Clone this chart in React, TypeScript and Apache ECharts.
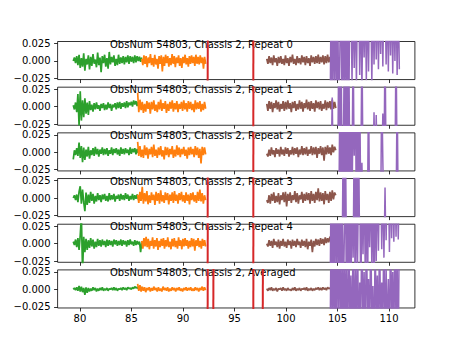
import React, { useEffect, useRef } from 'react';
import * as echarts from 'echarts';

// ---------- data (values in thousandths, i.e. 1 = 0.001) ----------
const TITLES = [
  'ObsNum 54803, Chassis 2, Repeat 0',
  'ObsNum 54803, Chassis 2, Repeat 1',
  'ObsNum 54803, Chassis 2, Repeat 2',
  'ObsNum 54803, Chassis 2, Repeat 3',
  'ObsNum 54803, Chassis 2, Repeat 4',
  'ObsNum 54803, Chassis 2, Averaged',
];
const X_TICKS = [80, 85, 90, 95, 100, 105, 110];
const Y_TICKS = [-0.025, 0, 0.025];

const GREEN_START = [79.35, 79.35, 79.35, 79.35, 79.35, 79.35];
const GREEN_END = [86.0, 86.0, 86.0, 86.0, 86.0, 86.0];
const ORANGE_START = [86.0, 85.6, 85.6, 85.6, 86.0, 85.6];
const ORANGE_END = [92.2, 92.2, 92.2, 92.2, 92.2, 92.2];
const BROWN_START = [98.13, 98.13, 98.13, 98.13, 98.13, 98.13];
const BROWN_END = [104.83, 104.83, 104.83, 104.83, 104.83, 104.83];
const PURPLE_START = [104.27, 104.27, 104.27, 104.27, 104.27, 104.27];
const PURPLE_END = [111.0, 111.0, 111.0, 111.0, 111.0, 111.0];

const GREEN = [
  [0,5,-3,7,-6,9,-10,4,-8,11,-14,3,-5,8,-12,6,-7,10,-4,2,-9,12,-6,5,-16,7,-3,9,-8,4,-11,13,-5,6,-2,8,-7,3,-6,9,-4,5,-3,7,-5,6,-2,8,-4,7,-1,6,-3,8,-2,7,0,6,-1,5],
  [2,-4,6,-8,18,-27,22,-20,9,-15,12,-10,6,-12,8,-5,3,-7,5,-4,6,-3,2,-6,4,-2,5,-5,3,-4,6,-2,4,-6,3,-1,5,-4,6,-2,7,-3,5,0,6,-2,8,-1,6,2,7,0,9,3,8,1,7,2,5,0],
  [-10,3,-4,6,-5,14,-8,9,-14,7,-11,4,-6,8,-9,3,-4,6,-5,8,-3,5,-6,4,-2,7,-4,5,-3,6,-5,3,-2,7,-4,5,-1,6,-3,4,-5,7,-2,5,-3,6,-1,4,-4,7,-2,5,0,6,-3,5,-1,4,-2,3],
  [0,4,-3,5,-6,9,17,-8,12,-6,-19,8,-10,5,-7,9,-4,6,-8,3,-5,7,-3,4,-6,5,-2,6,-4,3,-5,7,-3,4,-2,6,-5,3,-1,5,-4,6,-2,4,-3,7,-1,5,-4,3,-2,6,-3,4,-1,5,-2,3,-4,2],
  [3,-2,6,-5,8,-9,12,40,-40,10,-12,7,-9,5,-6,8,-4,6,-7,3,-5,7,-3,5,-4,6,-2,4,-5,6,-3,5,-2,4,-4,6,-1,5,-3,4,-2,6,-3,5,-1,4,-4,5,-2,6,-1,3,-3,5,-2,4,-1,3,-12,2],
  [0,2,-1,3,-2,5,-3,4,-4,2,-8,3,-5,2,-3,1,-2,3,-1,2,-3,1,-2,2,-1,3,-2,1,-1,2,-2,1,0,2,-1,3,-1,2,-2,1,0,2,-1,3,0,2,-1,3,1,2,0,3,1,4,2,3,1,4,2,3],
];

const ORANGE = [
  [3,-6,8,-4,7,-9,5,-3,10,-6,4,-8,9,-5,3,-11,7,-4,8,-15,6,-7,9,-3,7,-8,4,-6,10,-4,7,-9,5,-3,8,-7,4,-10,6,-3,9,-5,4,-8,7,-4,8,-3,6,-7,9,-4,6,-5,8,-3,5,-11,6,-4],
  [20,-8,10,-5,7,-9,4,-7,8,-3,6,-10,7,-4,9,-6,3,-8,7,-4,10,-6,5,-3,8,-9,4,-6,7,-3,9,-7,5,-4,8,-8,4,-3,7,-6,9,-4,5,-7,8,-3,7,-5,4,-8,9,-4,6,-3,8,-7,4,-5,7,-3],
  [15,-5,9,-7,4,-8,10,-4,7,-9,5,-3,8,-7,11,-5,4,-8,7,-4,9,-6,3,-10,8,-4,7,-7,5,-3,9,-8,4,-6,10,-4,7,-7,5,-3,8,-5,4,-9,7,-4,8,-3,5,-7,9,-4,7,-8,5,-16,8,-4,7,-3],
  [5,-7,9,-4,16,-8,7,-5,10,-9,4,-7,8,-3,5,-10,9,-4,7,-8,11,-5,4,-7,8,-3,7,-9,5,-4,8,-7,10,-4,5,-8,7,-3,9,-5,4,-7,8,-4,5,-9,7,-3,8,-5,4,-7,9,-4,12,-5,7,-8,4,-3],
  [4,-7,8,-4,10,-5,7,-8,4,-3,9,-7,5,-4,8,-9,4,-5,7,-3,8,-7,5,-4,9,-5,3,-8,7,-4,8,-5,4,-7,9,-3,5,-8,7,-4,8,-3,5,-7,4,-5,8,-4,7,-10,5,-3,8,-5,4,-7,7,-3,5,-4],
  [8,-2,6,-3,4,-2,3,-4,2,-1,3,-3,2,-2,4,-1,2,-3,3,-2,1,-3,4,-1,2,-2,3,-3,1,-2,3,-1,2,-3,2,-1,3,-2,1,-3,2,-1,3,-2,2,-1,3,-2,1,-2,3,-1,2,-3,2,-1,4,-2,3,-1],
];

// x positions where the red trace crosses the whole panel
const RED_CROSS = [
  [92.4, 96.83],
  [96.83],
  [96.83],
  [92.4, 96.83],
  [92.4, 96.83],
  [92.4, 92.95, 96.83, 97.75],
];

const BROWN = [
  [3,-4,7,-3,5,-6,8,-2,4,-7,6,-3,7,-4,3,-6,8,-3,4,-7,6,-2,9,-4,3,-6,7,-3,4,-5,8,-2,6,-6,7,-3,4,-7,8,-2,6,-4,7,-3,9,-4,6,-2,8,-5,7,-3,9,-2,6,-4,8,-1,7,-3],
  [4,-6,8,-3,7,-8,5,-2,9,-4,7,-7,4,-3,8,-6,7,-4,9,-3,5,-8,7,-2,8,-6,4,-4,9,-3,7,-7,5,-2,10,-4,7,-6,8,-3,5,-7,9,-2,7,-4,8,-6,4,-3,9,-5,7,-2,8,-4,10,-3,7,-2],
  [-2,-6,4,-5,7,-3,3,-7,6,-2,4,-6,8,-3,4,-5,7,-2,6,-6,3,-3,8,-4,6,-2,7,-7,4,-3,9,-4,6,-3,8,-5,4,-2,9,-4,7,-3,8,-8,6,-2,9,-4,7,-12,8,-3,10,-2,7,-4,11,0,8,3],
  [-3,-7,4,-8,6,-4,8,-7,3,-6,7,-9,4,-3,8,-6,9,-12,6,-4,8,-7,4,-3,10,-6,7,-8,4,-2,9,-7,6,-4,8,-3,7,-8,10,-4,6,-7,9,-3,14,-5,8,-4,7,-9,10,-3,6,-7,9,-4,11,-2,8,4],
  [0,-4,5,-3,4,-6,7,-2,3,-5,6,-7,4,-3,7,-4,3,-6,6,-2,4,-7,6,-3,4,-5,7,-2,3,-6,6,-3,4,-5,7,-8,3,-3,6,-12,4,-4,7,-2,6,-3,8,0,7,-2,9,1,8,2,10,3,9,4,11,6],
  [1,-2,2,-1,3,-2,1,-1,2,-3,1,0,2,-2,3,-1,1,-2,2,-1,0,-2,2,-1,3,-2,1,-1,2,-2,1,0,2,-1,3,-2,1,-1,2,-2,1,-1,2,0,3,-1,2,-1,3,0,2,-1,3,1,2,0,3,1,2,1],
];

// 99 / -99 = far off the panel (clipped at the frame)
const PURPLE = [
  [-99,99,-99,99,-40,99,-99,99,-99,20,99,-99,99,-60,99,-99,99,-99,99,
   99,-30,99,-10,99,-35,99,99,-20,99,-40,99,5,99,-28,99,-15,99,99,-32,99,-5,
   99,2,99,-12,99,10,99,-8,99,99,-5,99,-15,99,8,99,-18,99,0,99,-20,99,-12],
  [-99,-99,13,-99,-99,-99,-99,-99,99,-99,99,-99,-99,99,-99,99,-99,99,-99,-99,-99,99,-99,-99,-99,-99,-99,-99,-99,99,
   -99,-99,-99,-99,-99,-99,-99,-99,-99,-99,-8,-99,-12,-99,-99,-99,-99,-99,-10,-99,99,-99,-99,-99,-99,-99,-99,-99,-99,-99,99,-99,-99,-99],
  [-99,-99,-99,-99,-99,-99,-99,-99,-99,99,-99,99,-99,99,-99,99,-99,99,-99,99,-99,99,-5,99,-99,99,-99,99,-99,-15,
   -99,-99,-99,-99,-99,99,-99,-99,-99,-99,-99,-99,-99,-99,-99,-99,-99,99,-12,-99,-99,-99,-99,-99,-99,-99,-99,-99,-99,-99,-99,99,-99,-99],
  [-99,-99,-99,-99,-99,-99,-99,-99,-99,-99,-99,-99,99,-99,99,-99,-99,-99,-99,-99,-99,-99,99,-99,99,-99,99,-99,-99,-99,
   -99,-99,-99,-99,-99,-99,-99,-99,-99,-99,-99,-99,-99,-99,-99,-99,-99,-99,-99,-99,15,-99,-99,-99,-99,-99,-99,-99,-99,-99,-99,-99,-99,-99],
  [-99,99,-99,99,-99,99,-50,99,-99,99,-99,99,-99,10,99,-99,99,-99,
   99,-99,99,-20,99,-99,99,-30,99,99,-99,99,-15,99,-40,99,-99,99,-5,99,-35,99,-99,99,-25,99,-10,99,
   99,-8,99,-20,99,5,99,99,-12,99,8,99,3,99,10,99,6,99],
  [-99,99,-60,99,-99,80,-99,99,-40,99,-99,60,-99,99,-70,40,-99,99,-50,20,-99,99,-80,30,-60,99,-99,10,-40,99,-70,25,-99,99,-30,15,-80,99,-50,5,-99,70,-40,20,-90,99,-60,10,-50,99,-99,30,-70,15,-99,99,-45,25,-80,99,-60,40,-99,99],
];

// ---------- layout ----------
const W = 461;
const H = 346;
const LEFT = 57.6;
const RIGHT_EDGE = 414.9;
const TOP0 = 41.5;
const PH = 38.07;
const GAP = 7.61;
const X_MIN = 77.83;
const X_MAX = 112.51;
const Y_MIN = -0.0267;
const Y_MAX = 0.028;
const FONT = 'DejaVu Sans';

const COLORS = {
  green: '#2ca02c',
  orange: '#ff7f0e',
  red: '#d62728',
  brown: '#8c564b',
  purple: '#9467bd',
};

function seg(x0: number, x1: number, vals: number[]) {
  const n = vals.length;
  return vals.map((v, k) => [x0 + ((x1 - x0) * k) / (n - 1), v / 1000]);
}

function fmtY(v: number) {
  const s = Math.abs(v).toFixed(3);
  return v < 0 ? '\u2212' + s : s;
}

function buildOption() {
  const grids: any[] = [];
  const xAxes: any[] = [];
  const yAxes: any[] = [];
  const titles: any[] = [];
  const series: any[] = [];
  const N = TITLES.length;
  for (let i = 0; i < N; i++) {
    const top = TOP0 + i * (PH + GAP);
    grids.push({
      left: LEFT,
      top,
      width: RIGHT_EDGE - LEFT,
      height: PH,
      show: true,
      borderColor: '#000',
      borderWidth: 0.8,
      backgroundColor: 'transparent',
    });
    xAxes.push({
      type: 'value',
      gridIndex: i,
      position: 'bottom',
      min: X_MIN,
      max: X_MAX,
      axisLine: { show: false, onZero: false },
      splitLine: { show: false },
      axisTick: {
        show: true,
        inside: false,
        length: 3.5,
        customValues: X_TICKS,
        lineStyle: { color: '#000', width: 0.8 },
      },
      axisLabel: {
        show: i === N - 1,
        customValues: X_TICKS,
        margin: 6,
        fontSize: 10,
        fontFamily: FONT,
        color: '#000',
        formatter: (v: number) => String(Math.round(v)),
      },
    });
    yAxes.push({
      type: 'value',
      gridIndex: i,
      position: 'left',
      min: Y_MIN,
      max: Y_MAX,
      axisLine: { show: false, onZero: false },
      splitLine: { show: false },
      axisTick: {
        show: true,
        inside: false,
        length: 3.5,
        customValues: Y_TICKS,
        lineStyle: { color: '#000', width: 0.8 },
      },
      axisLabel: {
        show: true,
        customValues: Y_TICKS,
        margin: 7,
        fontSize: 10,
        fontFamily: FONT,
        color: '#000',
        formatter: fmtY,
      },
    });
    titles.push({
      text: TITLES[i],
      left: 110,
      top: top - 2.5,
      padding: 0,
      z: 1,
      textStyle: {
        fontSize: 10,
        fontWeight: 'normal',
        fontFamily: FONT,
        color: '#000',
      },
    });
    const common = {
      type: 'line',
      xAxisIndex: i,
      yAxisIndex: i,
      symbol: 'none',
      showSymbol: false,
      clip: true,
      silent: true,
      z: 2,
    };
    series.push({
      ...common,
      name: 'green' + i,
      data: seg(GREEN_START[i], GREEN_END[i], GREEN[i]),
      lineStyle: { color: COLORS.green, width: 1.7 },
    });
    series.push({
      ...common,
      name: 'orange' + i,
      data: seg(ORANGE_START[i], ORANGE_END[i], ORANGE[i]),
      lineStyle: { color: COLORS.orange, width: 1.7 },
    });
    RED_CROSS[i].forEach((x, k) => {
      series.push({
        ...common,
        name: 'red' + i + '_' + k,
        data: [
          [x - 0.02, -0.099],
          [x + 0.02, 0.099],
        ],
        lineStyle: { color: COLORS.red, width: 2 },
      });
    });
    series.push({
      ...common,
      name: 'brown' + i,
      data: seg(BROWN_START[i], BROWN_END[i], BROWN[i]),
      lineStyle: { color: COLORS.brown, width: 1.7 },
    });
    series.push({
      ...common,
      name: 'purple' + i,
      data: seg(PURPLE_START[i], PURPLE_END[i], PURPLE[i]),
      lineStyle: { color: COLORS.purple, width: 1.5 },
    });
  }
  return {
    animation: false,
    backgroundColor: '#fff',
    title: titles,
    grid: grids,
    xAxis: xAxes,
    yAxis: yAxes,
    series,
  };
}

export default function App() {
  const ref = useRef<HTMLDivElement>(null);
  useEffect(() => {
    if (!ref.current) return;
    const chart = echarts.init(ref.current, null, { renderer: 'svg', width: W, height: H });
    chart.setOption(buildOption() as any);
    return () => chart.dispose();
  }, []);
  return (
    <div
      ref={ref}
      style={{ position: 'fixed', left: 0, top: 0, width: W, height: H, background: '#fff' }}
    />
  );
}
